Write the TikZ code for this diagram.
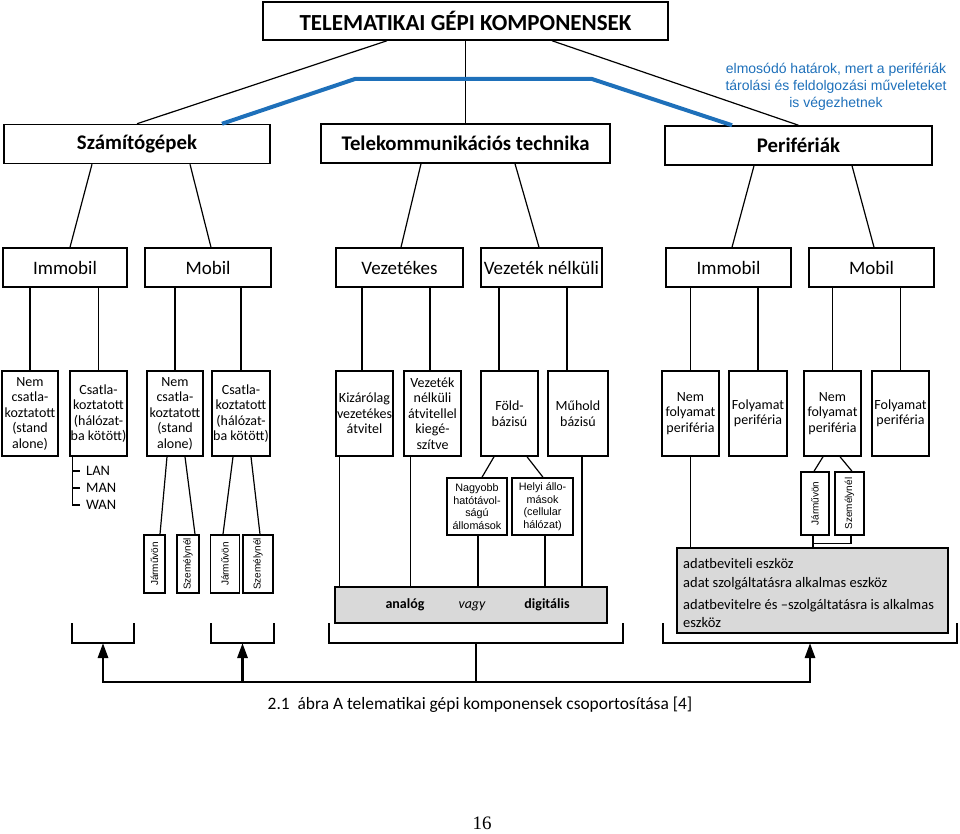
\documentclass[tikz,border=0pt]{standalone}
\usepackage{fontspec}
\usepackage{graphicx}
\setmainfont{Carlito}
\newfontfamily\arialfont{Liberation Sans}
\newfontfamily\pagefont{Liberation Serif}
\usetikzlibrary{arrows.meta}
\definecolor{kek}{RGB}{30,112,186}
\definecolor{szurke}{RGB}{217,217,217}
\tikzstyle{doboz} = [draw=black, line width=1.5pt, inner sep=0pt, align=center, text centered]
\tikzstyle{fo} = [doboz, font=\fontsize{20.8}{24}\selectfont\bfseries, minimum height=39pt]
\tikzstyle{al} = [doboz, font=\fontsize{19}{22}\selectfont, minimum height=39pt]
\tikzstyle{kicsi} = [doboz, font=\fontsize{14}{15.5}\selectfont, minimum height=85pt]
\tikzstyle{arial} = [doboz, font=\arialfont\fontsize{10.8}{12.5}\selectfont, minimum height=57pt]
\tikzstyle{fekvo} = [doboz, font=\arialfont\fontsize{10}{12}\selectfont]
\tikzstyle{vonal} = [line width=1.2pt]
\tikzstyle{kapocs} = [line width=2.8pt]
\tikzstyle{nyil} = [line width=2.8pt, -{Triangle[length=15pt,width=10pt]}]

\begin{document}
\begin{tikzpicture}[x=1pt,y=-1pt]
                \useasboundingbox (0,0) rectangle (960,834);
                \node[doboz, font=\fontsize{23}{26}\selectfont\bfseries, minimum width=405pt, minimum height=38pt] (telem) at (465.5,21) {TELEMATIKAI GÉPI KOMPONENSEK};

                \node[fo, minimum width=266pt] (szam) at (137,144) {Számítógépek};
                \node[fo, minimum width=289pt] (tele) at (465.5,143.5) {Telekommunikációs technika};
                \node[fo, minimum width=267pt] (perif) at (798.5,145.5) {Perifériák};
                \node[font=\arialfont\fontsize{14}{17}\selectfont, text=kek, align=center] (megj) at (836,87) {elmosódó határok, mert a perifériák\\tárolási és feldolgozási műveleteket\\is végezhetnek};

                \node[al, minimum width=124pt] (imma) at (65,267.5) {Immobil};
                \node[al, minimum width=126pt] (moba) at (208,267.5) {Mobil};
                \node[al, minimum width=127pt] (vez) at (399.5,267.5) {Vezetékes};
                \node[al, minimum width=121pt] (vezn) at (541.5,267.5) {Vezeték nélküli};
                \node[al, minimum width=125pt] (immb) at (728.5,267.5) {Immobil};
                \node[al, minimum width=125pt] (mobb) at (871.5,267.5) {Mobil};

                \node[kicsi, minimum width=56pt] (n1) at (30,413.5) {Nem\\csatla-\\koztatott\\(stand\\alone)};
                \node[kicsi, minimum width=57pt] (n2) at (98.5,413.5) {Csatla-\\koztatott\\(hálózat-\\ba kötött)};
                \node[kicsi, minimum width=56pt] (n3) at (175,413.5) {Nem\\csatla-\\koztatott\\(stand\\alone)};
                \node[kicsi, minimum width=58pt] (n4) at (241,413.5) {Csatla-\\koztatott\\(hálózat-\\ba kötött)};
                \node[kicsi, minimum width=57pt] (n5) at (364.5,413.5) {Kizárólag\\vezetékes\\átvitel};
                \node[kicsi, minimum width=57pt] (n6) at (432.5,413.5) {Vezeték\\nélküli\\átvitellel\\kiegé-\\szítve};
                \node[kicsi, minimum width=57pt] (n7) at (509.5,413.5) {Föld-\\bázisú};
                \node[kicsi, minimum width=60pt] (n8) at (578,413.5) {Műhold\\bázisú};
                \node[kicsi, minimum width=57pt] (n9) at (690.5,413.5) {Nem\\folyamat\\periféria};
                \node[kicsi, minimum width=58pt] (n10) at (758,413.5) {Folyamat\\periféria};
                \node[kicsi, minimum width=57pt] (n11) at (832.5,413.5) {Nem\\folyamat\\periféria};
                \node[kicsi, minimum width=57pt] (n12) at (900.5,413.5) {Folyamat\\periféria};

                \node[font=\fontsize{14.5}{17}\selectfont, anchor=west, inner sep=0pt] (lan) at (86,471) {LAN};
                \node[font=\fontsize{14.5}{17}\selectfont, anchor=west, inner sep=0pt] (man) at (86,488) {MAN};
                \node[font=\fontsize{14.5}{17}\selectfont, anchor=west, inner sep=0pt] (wan) at (86,505) {WAN};

                \node[fekvo, minimum width=21pt, minimum height=58pt] (j1) at (154.5,564) {\rotatebox{90}{Járművön}};
                \node[fekvo, minimum width=22pt, minimum height=58pt] (j2) at (188,564) {\rotatebox{90}{Személynél}};
                \node[fekvo, minimum width=29pt, minimum height=58pt] (j3) at (225,564) {\rotatebox{90}{Járművön}};
                \node[fekvo, minimum width=30pt, minimum height=58pt] (j4) at (258,564) {\rotatebox{90}{Személynél}};
                \node[fekvo, minimum width=28pt, minimum height=63pt] (j5) at (815,503.5) {\rotatebox{90}{Járművön}};
                \node[fekvo, minimum width=29pt, minimum height=63pt] (j6) at (849.5,503.5) {\rotatebox{90}{Személynél}};

                \node[arial, minimum width=60pt] (nagy) at (477,506.5) {Nagyobb\\hatótávol-\\ságú\\állomások};
                \node[arial, minimum width=61pt] (helyi) at (542.5,506.5) {Helyi állo-\\mások\\(cellular\\hálózat)};

                \node[doboz, fill=szurke, minimum width=272pt, minimum height=36pt] (analog) at (471,605) {};
                \node[font=\fontsize{14}{17}\selectfont\bfseries] (an) at (405,605) {analóg};
                \node[font=\fontsize{14}{17}\selectfont\itshape] (vagy) at (472,606) {vagy};
                \node[font=\fontsize{14}{17}\selectfont\bfseries] (dig) at (547,605) {digitális};

                \node[doboz, fill=szurke, minimum width=271pt, minimum height=85pt] (pgray) at (812.5,590.5) {};
                \node[font=\fontsize{14.5}{17.5}\selectfont, anchor=north west, align=left, inner sep=0pt] (ptext) at (683,558) {adatbeviteli eszköz\\[1.5pt]
                    adat szolgáltatásra alkalmas eszköz\\[5pt]
                    adatbevitelre és –szolgáltatásra is alkalmas\\
                    eszköz};

                \draw[vonal] ([xshift=-78.5]telem.south) -- (szam.north);
                \draw[vonal] (telem.south) -- (tele.north);
                \draw[vonal] ([xshift=86.5]telem.south) -- (perif.north);
                \coordinate (k1) at (355,79);
                \coordinate (k2) at (592,79);
                \draw[kek, line width=4pt] ([xshift=85]szam.north) -- (k1) -- (k2) -- ([xshift=-66.5]perif.north);

                \draw[vonal] ([xshift=-45]szam.south) -- ([xshift=5]imma.north);
                \draw[vonal] ([xshift=53]szam.south) -- ([xshift=3]moba.north);
                \draw[vonal] ([xshift=-44.5]tele.south) -- ([xshift=1.5]vez.north);
                \draw[vonal] ([xshift=49.5]tele.south) -- ([xshift=-2.5]vezn.north);
                \draw[vonal] ([xshift=-44.5]perif.south) -- ([xshift=3.5]immb.north);
                \draw[vonal] ([xshift=53.5]perif.south) -- ([xshift=2.5]mobb.north);

                \foreach \a/\b/\d in {n1/imma/0,n2/imma/0,n3/moba/0,n4/moba/0,n5/vez/-2.5,n6/vez/-2.5,n7/vezn/-10.5,n8/vezn/-11,n9/immb/0,n10/immb/0,n11/mobb/0,n12/mobb/0}
                    \draw[vonal] ([xshift=\d]\a.north) -- ([xshift=\d]\a.north |- \b.south);

                \draw[vonal] ([xshift=3]n2.south west) |- ([xshift=-6]wan.west);
                \draw[vonal] ([xshift=-13]lan.west) -- ([xshift=-6]lan.west);
                \draw[vonal] ([xshift=-13]man.west) -- ([xshift=-6]man.west);

                \draw[vonal] ([xshift=-8]n3.south) -- ([xshift=5.5]j1.north);
                \draw[vonal] ([xshift=10]n3.south) -- ([xshift=7]j2.north);
                \draw[vonal] ([xshift=-8]n4.south) -- ([xshift=-2]j3.north);
                \draw[vonal] ([xshift=10]n4.south) -- ([xshift=2]j4.north);

                \draw[vonal] ([xshift=-15.5]n7.south) -- ([xshift=5]nagy.north);
                \draw[vonal] ([xshift=17.5]n7.south) -- ([xshift=0.5]helyi.north);

                \draw[vonal] ([xshift=4]n5.south west) -- ([xshift=4]n5.south west |- analog.north);
                \draw[vonal] ([xshift=7]n6.south west) -- ([xshift=7]n6.south west |- analog.north);
                \draw[vonal] ([xshift=1]nagy.south) -- ([xshift=1]nagy.south |- analog.north);
                \draw[vonal] ([xshift=2.5]helyi.south) -- ([xshift=2.5]helyi.south |- analog.north);
                \draw[vonal] ([xshift=4]n8.south) -- ([xshift=4]n8.south |- analog.north);

                \draw[vonal] ([xshift=-9.5]n11.south) -- ([xshift=-1]j5.north);
                \draw[vonal] ([xshift=7.5]n11.south) -- ([xshift=2.5]j6.north);
                \draw[vonal] (n9.south) -- (n9.south |- pgray.north);
                \draw[vonal] ([xshift=-2]j5.south) -- ++(0,8) -| ([xshift=1.5]j6.south);
                \draw[vonal] ([xshift=-2]j5.south) -- ([xshift=-2]j5.south |- pgray.north);

                \draw[kapocs] (72,623) |- (134,643) -- (134,623);
                \draw[kapocs] (211,623) |- (274,643) -- (274,623);
                \draw[kapocs] (329,623) |- (623,643) -- (623,623);
                \draw[kapocs] (663,623) |- (957,643) -- (957,623);
                \coordinate (b1) at (103,643);
                \coordinate (b2) at (242.5,643);
                \coordinate (b3) at (476,643);
                \coordinate (b4) at (810,643);
                \coordinate (h1) at (103,682);
                \coordinate (h2) at (242.5,682);
                \coordinate (h3) at (476,682);
                \coordinate (h4) at (810,682);
                \draw[kapocs] (b3) -- (h3);
                \draw[kapocs, line cap=rect] (h1) -- (h4);
                \draw[nyil] (h1) -- (b1);
                \draw[nyil] (h2) -- (b2);
                \draw[nyil] (h4) -- (b4);

                \node[font=\fontsize{17.4}{20}\selectfont] (felirat) at (480,705) {2.1\ \ ábra A telematikai gépi komponensek csoportosítása [4]};
                \node[font=\pagefont\fontsize{19}{22}\selectfont] (oldal) at (482,823) {16};
\end{tikzpicture}
\end{document}
